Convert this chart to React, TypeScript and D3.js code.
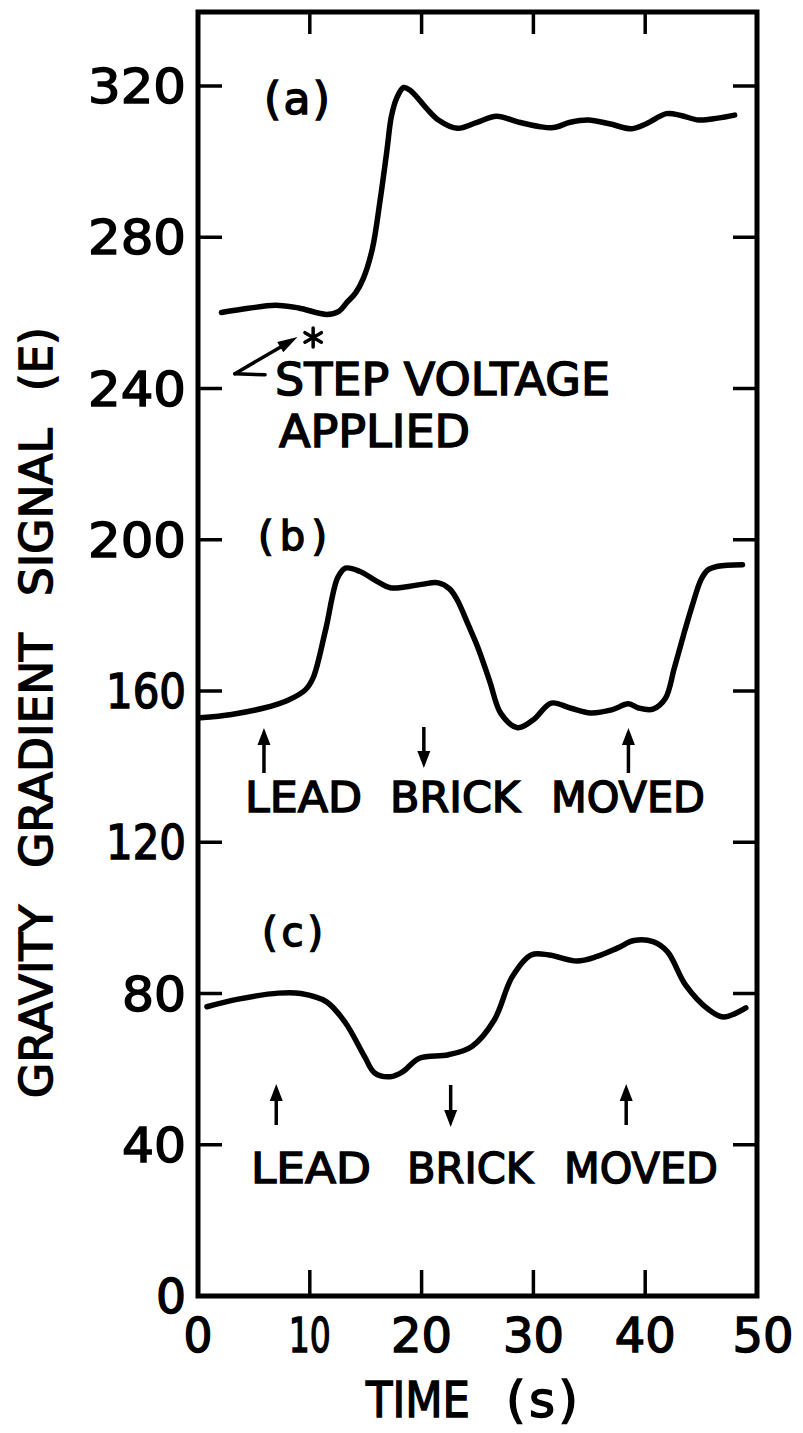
import React from "react";
import * as d3 from "d3";

// ---------------- data ----------------
const xTickValues = [0, 10, 20, 30, 40, 50];
const yTickValues = [0, 40, 80, 120, 160, 200, 240, 280, 320];

const timeA = [2.1, 4.5, 6.9, 9.0, 11.5, 12.6, 13.3, 14.1, 14.8, 15.6, 16.3, 16.9, 17.3, 17.8, 18.4, 19.0, 19.6, 20.4, 21.5, 23.2, 24.9, 26.7, 28.6, 30.5, 31.8, 33.3, 34.9, 36.8, 38.8, 40.1, 41.9, 43.2, 44.8, 46.5, 48.0];
const signalA = [260.1, 261.2, 262.0, 261.3, 259.6, 260.4, 262.7, 265.3, 269.2, 277.0, 290.0, 303.0, 312.0, 317.0, 319.6, 318.8, 317.0, 314.2, 311.0, 308.8, 310.3, 312.0, 310.5, 309.3, 309.0, 310.4, 311.0, 310.0, 308.7, 310.0, 312.7, 312.2, 311.0, 311.5, 312.3];

const timeB = [0.2, 3.0, 5.9, 8.0, 9.6, 10.3, 11.4, 12.5, 13.2, 14.5, 16.0, 17.2, 18.5, 20.0, 21.5, 22.5, 23.2, 24.1, 25.1, 26.1, 27.1, 28.6, 30.0, 31.6, 33.3, 35.1, 37.0, 38.5, 39.4, 40.7, 41.8, 42.6, 43.4, 44.2, 45.0, 45.6, 46.5, 48.7];
const signalB = [152.9, 153.8, 155.5, 157.5, 160.3, 163.5, 176, 190, 192.5, 191.6, 189, 187.3, 187.5, 188.2, 188.6, 187, 184, 178, 171, 162.5, 154, 150.3, 152.4, 156.8, 155.5, 154.2, 155, 156.6, 155.5, 155.2, 158, 166, 174.5, 182.5, 189.5, 192, 193, 193.4];

const timeC = [0.8, 3.6, 7.2, 9.2, 11.5, 13.2, 14.9, 15.8, 17.2, 18.3, 19.8, 22.4, 24.5, 26.5, 28.1, 29.8, 31.4, 33.9, 35.7, 37.5, 39.0, 40.7, 42.0, 43.6, 45.7, 47.0, 49.0];
const signalC = [76.5, 78.5, 80.1, 80.0, 77.8, 72.2, 63.3, 59.0, 58.0, 59.3, 62.9, 63.8, 66.0, 73.0, 84.4, 90.2, 90.2, 88.6, 89.8, 92.0, 94.0, 93.7, 91.0, 82.3, 75.7, 73.8, 76.2];

const panelLabels = ["(a)", "(b)", "(c)"];
const eventWords = ["LEAD", "BRICK", "MOVED"];
const eventTimesB = [5.9, 20.2, 38.5];
const eventTimesC = [7.0, 22.6, 38.3];
const eventDirs = ["up", "down", "up"];
const stepText = ["STEP VOLTAGE", "APPLIED"];
const stepTime = 10.3; // asterisk
const stepSignal = 253.5;
const stepArrowFrom: [number, number] = [3.3, 243.9];
const stepArrowTo: [number, number] = [8.9, 253.6];
const stepArrowBar = 6.0;

const xTitle = "TIME";
const xTitleUnit = "(s)";
const yTitle = "GRAVITY GRADIENT SIGNAL (E)";

// ---------------- layout ----------------
const W = 803;
const H = 1433;
const FONT = "'DejaVu Sans', 'Liberation Sans', sans-serif";
const left = 198, right = 757, top = 12, bottom = 1296;
const TSTROKE = 1.5;

const x = d3.scaleLinear().domain([0, 50]).range([left, right]);
const y = d3.scaleLinear().domain([0, 320]).range([bottom, 86]);

const line = d3
  .line<[number, number]>()
  .x((d) => x(d[0]))
  .y((d) => y(d[1]))
  .curve(d3.curveCatmullRom.alpha(0.5));

const pts = (ts: number[], vs: number[]) => ts.map((t, i) => [t, vs[i]] as [number, number]);

const labelWidth = (s: string, one: number, other: number, gap: number) => {
  let w = 0;
  for (const c of s) w += c === "1" ? one : other;
  return w + gap * (s.length - 1);
};

function VArrow({ cx, yTop, yBot, dir }: { cx: number; yTop: number; yBot: number; dir: string }) {
  const hl = 17, hw = 6.5;
  if (dir === "up") {
    return (
      <g>
        <line x1={cx} x2={cx} y1={yBot} y2={yTop + hl - 2} stroke="#000" strokeWidth={3.5} />
        <path d={`M${cx},${yTop} L${cx - hw},${yTop + hl} L${cx + hw},${yTop + hl} Z`} fill="#000" />
      </g>
    );
  }
  return (
    <g>
      <line x1={cx} x2={cx} y1={yTop} y2={yBot - hl + 2} stroke="#000" strokeWidth={3.5} />
      <path d={`M${cx},${yBot} L${cx - hw},${yBot - hl} L${cx + hw},${yBot - hl} Z`} fill="#000" />
    </g>
  );
}

function WordRow({ words, xs, ws, baseline, size }: { words: string[]; xs: number[]; ws: number[]; baseline: number; size: number }) {
  return (
    <g>
      {words.map((w, i) => (
        <text
          key={w}
          x={xs[i]}
          y={baseline}
          fontSize={size}
          textLength={ws[i]}
          lengthAdjust="spacingAndGlyphs"
          fontFamily={FONT}
          fill="#000"
          stroke="#000"
          strokeWidth={TSTROKE}
        >
          {w}
        </text>
      ))}
    </g>
  );
}

export default function App() {
  const tickW = 3.5;
  // step-voltage arrow geometry
  const ax1 = x(stepArrowFrom[0]), ay1 = y(stepArrowFrom[1]);
  const ax2 = x(stepArrowTo[0]), ay2 = y(stepArrowTo[1]);
  const ang = Math.atan2(ay2 - ay1, ax2 - ax1);
  const hl = 20, hw = 6;
  const bx = ax2 - hl * Math.cos(ang), by = ay2 - hl * Math.sin(ang);
  const px = -Math.sin(ang) * hw, py = Math.cos(ang) * hw;
  const sx = x(stepTime), sy = y(stepSignal);

  return (
    <svg
      width={W}
      height={H}
      viewBox={`0 0 ${W} ${H}`}
      style={{ position: "absolute", left: 0, top: 0, background: "#fff" }}
    >
      <rect x={0} y={0} width={W} height={H} fill="#fff" />

      {/* frame */}
      <path
        d={`M${left},${top} L${right},${top} L${right},${bottom} L${left},${bottom} Z`}
        fill="none"
        stroke="#000"
        strokeWidth={5}
        strokeLinejoin="miter"
      />

      {/* y ticks (both sides, inward) */}
      {yTickValues.filter((v) => v > 0).map((v) => (
        <g key={"yt" + v}>
          <line x1={left} x2={left + 24} y1={y(v)} y2={y(v)} stroke="#000" strokeWidth={tickW} />
          <line x1={right} x2={right - 24} y1={y(v)} y2={y(v)} stroke="#000" strokeWidth={tickW} />
        </g>
      ))}
      {/* x ticks (top and bottom, inward) */}
      {xTickValues.filter((v) => v > 0 && v < 50).map((v) => (
        <g key={"xt" + v}>
          <line x1={x(v)} x2={x(v)} y1={bottom} y2={bottom - 26} stroke="#000" strokeWidth={tickW} />
          <line x1={x(v)} x2={x(v)} y1={top} y2={top + 22} stroke="#000" strokeWidth={tickW} />
        </g>
      ))}

      {/* y tick labels */}
      {yTickValues.map((v) => (
        <text
          key={"yl" + v}
          x={186}
          y={y(v) + 17}
          textAnchor="end"
          fontSize={48}
          fontFamily={FONT}
          textLength={labelWidth(String(v), 12, 30, 4)}
          lengthAdjust="spacingAndGlyphs"
          fill="#000"
          stroke="#000"
          strokeWidth={TSTROKE}
        >
          {v}
        </text>
      ))}
      {/* x tick labels */}
      {xTickValues.map((v) => (
        <text
          key={"xl" + v}
          x={x(v) + (v === 50 ? 6 : 0)}
          y={1352}
          textAnchor="middle"
          fontSize={48}
          fontFamily={FONT}
          textLength={labelWidth(String(v), 10, 29, 3)}
          lengthAdjust="spacingAndGlyphs"
          fill="#000"
          stroke="#000"
          strokeWidth={TSTROKE}
        >
          {v}
        </text>
      ))}

      {/* axis titles */}
      <text x={366} y={1417} fontSize={50} fontFamily={FONT} textLength={104} lengthAdjust="spacingAndGlyphs" fill="#000" stroke="#000" strokeWidth={TSTROKE}>
        {xTitle}
      </text>
      <text x={506} y={1417} fontSize={50} fontFamily={FONT} textLength={72} lengthAdjust="spacing" fill="#000" stroke="#000" strokeWidth={TSTROKE}>
        {xTitleUnit}
      </text>
      <text
        transform="translate(52,712.5) rotate(-90)"
        textAnchor="middle"
        fontSize={44}
        fontFamily={FONT}
        wordSpacing={22}
        textLength={771}
        lengthAdjust="spacingAndGlyphs"
        fill="#000"
        stroke="#000"
        strokeWidth={TSTROKE}
      >
        {yTitle}
      </text>

      {/* curves */}
      {[pts(timeA, signalA), pts(timeB, signalB), pts(timeC, signalC)].map((p, i) => (
        <path key={"c" + i} d={line(p) || ""} fill="none" stroke="#000" strokeWidth={5.5} strokeLinecap="round" strokeLinejoin="round" />
      ))}

      {/* panel labels */}
      <text x={264} y={114} fontSize={44} fontFamily={FONT} textLength={66} lengthAdjust="spacing" fill="#000" stroke="#000" strokeWidth={TSTROKE}>
        {panelLabels[0]}
      </text>
      <text x={258} y={550} fontSize={40} fontFamily={FONT} textLength={69} lengthAdjust="spacing" fill="#000" stroke="#000" strokeWidth={TSTROKE}>
        {panelLabels[1]}
      </text>
      <text x={262} y={946} fontSize={40} fontFamily={FONT} textLength={61} lengthAdjust="spacing" fill="#000" stroke="#000" strokeWidth={TSTROKE}>
        {panelLabels[2]}
      </text>

      {/* (a) step voltage annotation */}
      <line x1={ax1} y1={ay1} x2={x(stepArrowBar)} y2={ay1 + 1} stroke="#000" strokeWidth={3.5} strokeLinecap="round" />
      <line x1={ax1} y1={ay1} x2={bx} y2={by} stroke="#000" strokeWidth={3.5} strokeLinecap="round" />
      <path d={`M${ax2},${ay2} L${bx + px},${by + py} L${bx - px},${by - py} Z`} fill="#000" />
      {[0, 60, 120].map((a) => {
        const r = 9.5;
        const rad = (a * Math.PI) / 180 + Math.PI / 2;
        return (
          <line
            key={"ast" + a}
            x1={sx - r * Math.cos(rad)}
            y1={sy - r * Math.sin(rad)}
            x2={sx + r * Math.cos(rad)}
            y2={sy + r * Math.sin(rad)}
            stroke="#000"
            strokeWidth={3.5}
            strokeLinecap="round"
          />
        );
      })}
      <text x={275} y={395} fontSize={45} fontFamily={FONT} textLength={335} lengthAdjust="spacingAndGlyphs" fill="#000" stroke="#000" strokeWidth={TSTROKE}>
        {stepText[0]}
      </text>
      <text x={279} y={447} fontSize={45} fontFamily={FONT} textLength={191} lengthAdjust="spacingAndGlyphs" fill="#000" stroke="#000" strokeWidth={TSTROKE}>
        {stepText[1]}
      </text>

      {/* (b) arrows and text */}
      {eventTimesB.map((t, i) => (
        <VArrow key={"ab" + i} cx={x(t)} yTop={i === 1 ? 727 : 728} yBot={i === 1 ? 768 : 773} dir={eventDirs[i]} />
      ))}
      <WordRow words={eventWords} xs={[245, 390, 551]} ws={[117, 130, 154]} baseline={812} size={42} />

      {/* (c) arrows and text */}
      {eventTimesC.map((t, i) => (
        <VArrow key={"ac" + i} cx={x(t)} yTop={i === 1 ? 1085 : 1084} yBot={i === 1 ? 1127 : 1125} dir={eventDirs[i]} />
      ))}
      <WordRow words={eventWords} xs={[251, 407, 564]} ws={[120, 126, 154]} baseline={1183} size={43} />
    </svg>
  );
}
